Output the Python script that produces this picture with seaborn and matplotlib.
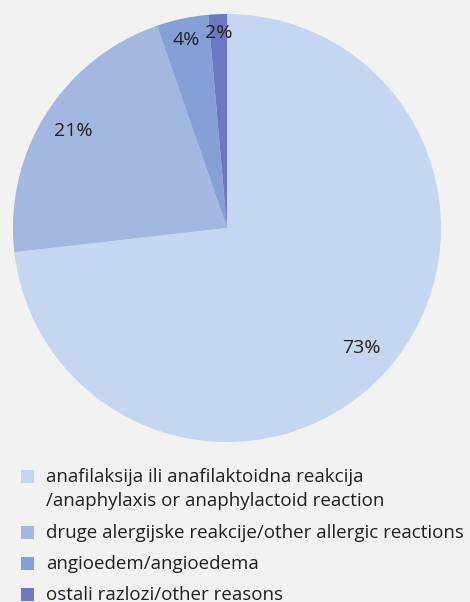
import matplotlib
matplotlib.use("Agg")
import matplotlib.pyplot as plt
from matplotlib.patches import Rectangle
import seaborn as sns
import numpy as np

sns.set_theme(style="white")
plt.rcParams['font.family'] = ['Open Sans', 'DejaVu Sans']

categories = [
    "anafilaksija ili anafilaktoidna reakcija\n/anaphylaxis or anaphylactoid reaction",
    "druge alergijske reakcije/other allergic reactions",
    "angioedem/angioedema",
    "ostali razlozi/other reasons",
]
values = [73.2, 21.5, 3.9, 1.4]
pct_labels = ["73%", "21%", "4%", "2%"]
colors = ["#c5d6f0", "#a2b8e1", "#84a0d6", "#6c79c2"]
label_r = [0.84, 0.85, 0.90, 0.91]

bg = "#f2f2f2"
txt = "#231f20"
W, H = 470, 602
fig = plt.figure(figsize=(W / 100, H / 100), dpi=100, facecolor=bg)
ax = fig.add_axes([13 / W, 1 - 442 / H, 428 / W, 428 / H])
ax.set_facecolor(bg)
wedges, _ = ax.pie(values, colors=colors, startangle=90, counterclock=False,
                   radius=1, wedgeprops=dict(linewidth=0))
for w, lab, r in zip(wedges, pct_labels, label_r):
    ang = np.deg2rad((w.theta1 + w.theta2) / 2)
    ax.text(r * np.cos(ang), r * np.sin(ang), lab, ha="center", va="center",
            fontsize=14, color=txt)
ax.set_xlim(-1, 1)
ax.set_ylim(-1, 1)
ax.set_aspect("equal")
ax.axis("off")

# legend (manual so the swatch aligns with the first line of each entry)
first_baselines = [482, 537.5, 569, 599.5]
line_gap = 23.5
for w, cat, yb in zip(wedges, categories, first_baselines):
    fig.patches.append(Rectangle((21 / W, 1 - (yb + 1) / H), 13 / W, 13 / H,
                                 transform=fig.transFigure,
                                 facecolor=w.get_facecolor(), edgecolor="none"))
    for i, line in enumerate(cat.split("\n")):
        fig.text(46 / W, 1 - (yb + i * line_gap) / H, line, ha="left",
                 va="baseline", fontsize=13.5, color=txt)

fig.savefig("out.png", dpi=100, facecolor=bg)
